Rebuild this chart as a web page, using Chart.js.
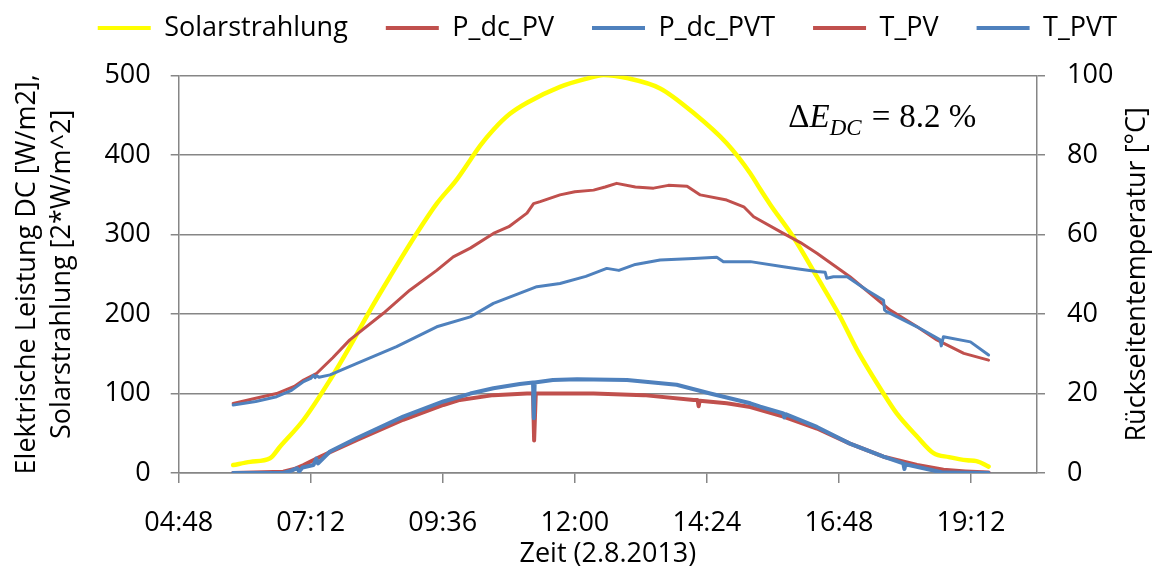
<!DOCTYPE html>
<html>
<head>
<meta charset="utf-8">
<script src="https://cdn.jsdelivr.net/npm/chart.js@4.4.0/dist/chart.umd.min.js"></script>
<style>
  html, body { margin: 0; padding: 0; background: #fff; }
</style>
</head>
<body>
<canvas id="chart" width="1155" height="571"></canvas>
<script>
// x axis: hours of the day (2.8.2013)
const xTickHours = [4.8, 7.2, 9.6, 12, 14.4, 16.8, 19.2];
const xTickLabels = ['04:48', '07:12', '09:36', '12:00', '14:24', '16:48', '19:12'];

// Solarstrahlung [2*W/m^2] (left axis)
const solarHours = [5.79, 6.1, 6.46, 6.64, 7.07, 7.55, 7.91, 8.28, 8.64, 9.13, 9.49, 9.85, 10.1, 10.28, 10.52, 10.82, 11.13, 11.73, 12.2, 12.52, 12.95, 13.55, 14.16, 14.76, 15.19, 15.37, 15.55, 15.97, 16.4, 16.82, 17.13, 17.61, 17.85, 18.22, 18.52, 18.8, 19.13, 19.3, 19.52];
const solarValues = [10, 14, 18.5, 33, 67, 117, 159, 205, 247, 302, 339, 369, 394, 412, 432, 452, 466, 486, 496, 501, 497, 484, 453, 415, 377, 357, 338, 297, 247, 197, 155, 100, 75, 46, 25, 20, 16, 15, 8];

// P_dc_PV [W/m2] (left axis)
const pdcPvHours = [5.79, 6.7, 6.9, 7.07, 7.37, 7.7, 8.04, 8.88, 9.61, 9.91, 10.52, 11.13, 11.24, 11.26, 11.29, 11.73, 12.34, 13.25, 14.16, 14.23, 14.25, 14.27, 14.76, 15.19, 15.79, 16.4, 17.0, 17.61, 18.22, 18.7, 19.1, 19.52];
const pdcPvValues = [0, 1.7, 5, 10, 20.5, 31, 41.5, 67, 85.6, 92, 98, 100, 100, 41, 100, 100, 100, 98, 92, 92, 84, 91, 87.7, 83, 71, 56, 37, 20.5, 10, 4, 2, 0.5];

// P_dc_PVT [W/m2] (left axis)
const pdcPvtHours = [5.79, 6.7, 6.85, 6.95, 6.99, 7.05, 7.25, 7.3, 7.33, 7.55, 8.04, 8.88, 9.61, 9.91, 10.1, 10.52, 11.0, 11.24, 11.255, 11.27, 11.6, 12.04, 12.95, 13.85, 14.46, 15.19, 15.37, 15.79, 15.81, 15.83, 16.4, 17.0, 17.61, 17.97, 17.99, 18.01, 18.46, 18.7, 19.52];
const pdcPvtValues = [0, 0, 3, 6, 2, 7, 10, 18, 12, 27, 44, 71, 90, 96, 100, 106.6, 112, 114, 69, 114, 117, 118, 117, 111, 100, 87.7, 83.4, 75, 70, 74, 58, 37, 20.5, 12, 5, 11, 4, 0.5, 0];

// T_PV [°C] (right axis)
const tPvHours = [5.79, 6.2, 6.58, 6.9, 7.07, 7.31, 7.6, 7.91, 8.52, 9.0, 9.49, 9.79, 10.1, 10.52, 10.8, 11.13, 11.25, 11.37, 11.73, 12.0, 12.34, 12.55, 12.76, 13.1, 13.43, 13.7, 14.04, 14.28, 14.76, 15.07, 15.25, 15.79, 16.1, 16.4, 17.0, 17.73, 18.2, 18.58, 19.07, 19.52];
const tPvValues = [17.5, 18.8, 20, 21.8, 23.4, 25.1, 29, 33.5, 40.2, 46, 51, 54.4, 56.6, 60.3, 62, 65.4, 67.8, 68.3, 70, 70.8, 71.2, 72, 72.9, 72, 71.7, 72.4, 72.2, 70, 68.7, 67, 64.5, 60.3, 58, 55.3, 49.4, 41, 37, 33.5, 30.1, 28.4];

// T_PVT [°C] (right axis)
const tPvtHours = [5.79, 6.2, 6.58, 6.85, 7.07, 7.2, 7.25, 7.28, 7.31, 7.35, 7.55, 8.04, 8.76, 9.49, 10.1, 10.52, 11.31, 11.73, 12.2, 12.58, 12.8, 13.1, 13.55, 14.16, 14.58, 14.7, 15.19, 15.79, 16.1, 16.4, 16.55, 16.58, 16.7, 16.95, 17.31, 17.61, 17.63, 17.67, 18.22, 18.64, 18.66, 18.7, 19.19, 19.52];
const tPvtValues = [17.1, 18, 19.2, 20.8, 23, 23.8, 24.6, 24, 24.5, 24.1, 24.7, 27.6, 31.8, 36.8, 39.3, 42.7, 46.9, 47.7, 49.5, 51.5, 51, 52.5, 53.6, 54, 54.3, 53.2, 53.2, 51.9, 51.3, 50.7, 50.5, 49, 49.4, 49.4, 46, 43.5, 41, 40.6, 36.8, 33.5, 32, 34.3, 33, 29.7];

const YELLOW = '#FFFF00';
const RED = '#C0504D';
const BLUE = '#4F81BD';
const GRID = '#868686';
const FONT = '"Open Sans", "Noto Sans", sans-serif';
const MATH_FONT = '"Liberation Serif", serif';

const toPoints = (hours, values) => hours.map((h, i) => ({ x: h, y: values[i] }));

// legend sits above, its height fixed so the plot starts where it should
const LEGEND_PAD = 38;
const LEGEND_FONT = 27;
const LAYOUT_TOP = 28 - LEGEND_PAD - LEGEND_FONT / 2;
const legendFit = {
    id: 'legendFit',
    beforeLayout(chart) {
        const lg = chart.legend;
        if (lg && !lg._fixedFit) {
            const fit = lg.fit;
            lg.fit = function () {
                fit.call(this);
                this.height = 75.7 - LAYOUT_TOP;
            };
            lg._fixedFit = true;
        }
    }
};

const extraText = {
    id: 'extraText',
    afterDraw(chart) {
        const ctx = chart.ctx;
        const xs = chart.scales.x;
        const ys = chart.scales.y;

        // right axis title, reading upwards
        ctx.save();
        ctx.fillStyle = '#000';
        ctx.font = '27px ' + FONT;
        ctx.textAlign = 'center';
        ctx.textBaseline = 'middle';
        ctx.translate(1137, (chart.chartArea.top + chart.chartArea.bottom) / 2);
        ctx.rotate(-Math.PI / 2);
        ctx.fillText('Rückseitentemperatur [°C]', 0, 0);
        ctx.restore();

        // Delta E annotation
        ctx.save();
        ctx.fillStyle = '#000';
        ctx.textBaseline = 'alphabetic';
        let x = xs.getPixelForValue(15.88);
        const y = ys.getPixelForValue(435);
        ctx.font = '33px ' + MATH_FONT;
        ctx.fillText('Δ', x, y);
        x += ctx.measureText('Δ').width;
        ctx.font = 'italic 33px ' + MATH_FONT;
        ctx.fillText('E', x, y);
        x += ctx.measureText('E').width;
        ctx.font = 'italic 23px ' + MATH_FONT;
        ctx.fillText('DC', x, y + 8);
        x += ctx.measureText('DC').width + 10;
        ctx.font = '33px ' + MATH_FONT;
        ctx.fillText('=', x, y);
        x += ctx.measureText('=').width + 9;
        ctx.fillText('8.2 %', x, y);
        ctx.restore();
    }
};

new Chart(document.getElementById('chart'), {
    type: 'line',
    data: {
        datasets: [
            { label: 'Solarstrahlung', data: toPoints(solarHours, solarValues), borderColor: YELLOW, backgroundColor: YELLOW, borderWidth: 4.5, cubicInterpolationMode: 'monotone', yAxisID: 'y', order: 5 },
            { label: 'P_dc_PV', data: toPoints(pdcPvHours, pdcPvValues), borderColor: RED, backgroundColor: RED, borderWidth: 4, yAxisID: 'y', order: 4 },
            { label: 'P_dc_PVT', data: toPoints(pdcPvtHours, pdcPvtValues), borderColor: BLUE, backgroundColor: BLUE, borderWidth: 4, yAxisID: 'y', order: 3 },
            { label: 'T_PV', data: toPoints(tPvHours, tPvValues), borderColor: RED, backgroundColor: RED, borderWidth: 3, yAxisID: 'y2', order: 2 },
            { label: 'T_PVT', data: toPoints(tPvtHours, tPvtValues), borderColor: BLUE, backgroundColor: BLUE, borderWidth: 3, yAxisID: 'y2', order: 1 }
        ]
    },
    options: {
        responsive: false,
        animation: false,
        layout: { padding: { top: LAYOUT_TOP, left: 0, right: 0, bottom: 0 } },
        elements: {
            point: { radius: 0 },
            line: { tension: 0, fill: false, borderCapStyle: 'round', borderJoinStyle: 'round' }
        },
        scales: {
            x: {
                type: 'linear',
                min: 4.8,
                max: 20.4,
                afterBuildTicks: (s) => { s.ticks = xTickHours.map(v => ({ value: v })); },
                afterFit: (s) => { s.height = 98; },
                ticks: {
                    autoSkip: false,
                    maxRotation: 0,
                    padding: 24,
                    color: '#000',
                    font: { family: FONT, size: 27 },
                    callback: (v, i) => xTickLabels[i]
                },
                grid: { drawOnChartArea: false, drawTicks: true, tickLength: 10, color: GRID, lineWidth: 1.5 },
                border: { display: true, color: GRID, width: 1.5 },
                title: { display: true, text: 'Zeit (2.8.2013)', color: '#000', font: { family: FONT, size: 27 }, padding: { top: 0, bottom: 0 } }
            },
            y: {
                position: 'left',
                min: 0,
                max: 500,
                afterFit: (s) => { s.width = 178.7; },
                ticks: { stepSize: 100, padding: 20, color: '#000', font: { family: FONT, size: 27 } },
                grid: { color: GRID, lineWidth: 1.5, tickLength: 8 },
                border: { display: true, color: GRID, width: 1.5 },
                title: {
                    display: true,
                    text: ['Elektrische Leistung DC [W/m2],', 'Solarstrahlung [2*W/m^2]'],
                    color: '#000',
                    font: { family: FONT, size: 27, lineHeight: 1.3 },
                    padding: { top: 9.5, bottom: 0 }
                }
            },
            y2: {
                position: 'right',
                min: 0,
                max: 100,
                afterFit: (s) => { s.width = 118; },
                ticks: { stepSize: 20, padding: 22, color: '#000', font: { family: FONT, size: 27 } },
                grid: { drawOnChartArea: false, color: GRID, lineWidth: 1.5, tickLength: 8 },
                border: { display: true, color: GRID, width: 1.5 }
            }
        },
        plugins: {
            legend: {
                position: 'top',
                align: 'end',
                labels: {
                    boxWidth: 53,
                    boxHeight: 4,
                    padding: LEGEND_PAD,
                    color: '#000',
                    font: { family: FONT, size: LEGEND_FONT },
                    sort: (a, b) => a.datasetIndex - b.datasetIndex,
                    generateLabels: (chart) => Chart.defaults.plugins.legend.labels.generateLabels(chart)
                        .map(item => Object.assign(item, { lineWidth: 0 }))
                }
            },
            tooltip: { enabled: false }
        }
    },
    plugins: [legendFit, extraText]
});
</script>
</body>
</html>
